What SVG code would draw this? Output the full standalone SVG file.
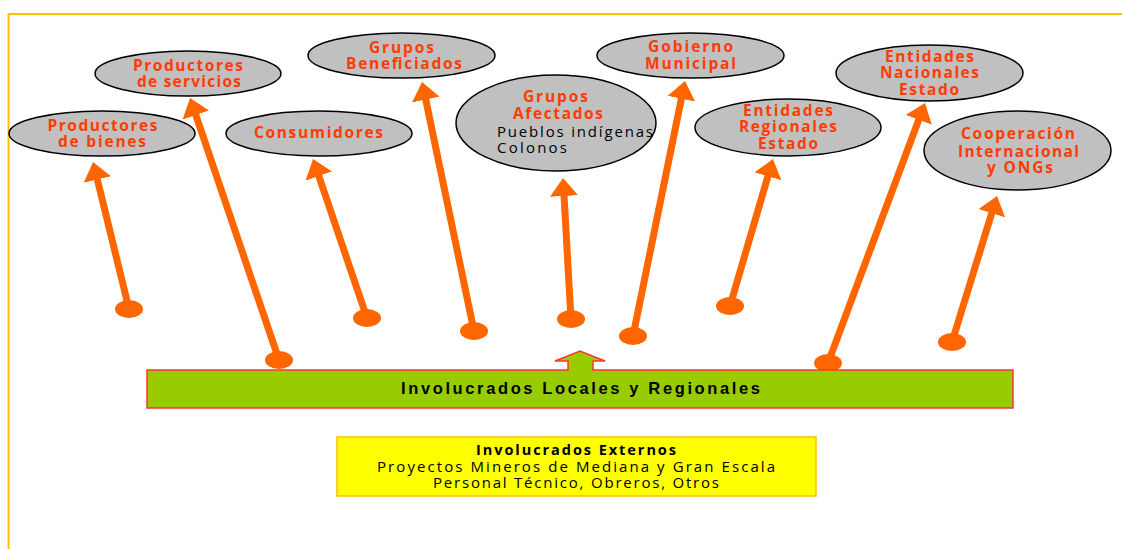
<svg xmlns="http://www.w3.org/2000/svg" width="1122" height="549" viewBox="0 0 1122 549">
<style>
.bg{fill:#FFFFFF}
.frame{stroke:#FFC000;stroke-width:2;fill:none}
.node{fill:#C0C0C0;stroke:#000000;stroke-width:1.5}
.lbl{font-family:"Open Sans","Liberation Sans",sans-serif;font-weight:bold;font-size:15.5px;fill:#FF3C00;text-anchor:middle}
.sub{font-family:"Open Sans","Liberation Sans",sans-serif;font-size:15px;fill:#000000}
.conn{stroke:#FF6600;stroke-width:7;fill:none;marker-end:url(#ah)}
.dot{fill:#FF6600}
.green{fill:#99CC00;stroke:#FF3333;stroke-width:1.5}
.gtxt{font-family:"Liberation Sans",Arial,sans-serif;font-weight:bold;font-size:16.5px;fill:#000000;text-anchor:middle}
.yellow{fill:#FFFF00;stroke:#FFC000;stroke-width:1.5}
.ytb{font-family:"Open Sans","Liberation Sans",sans-serif;font-weight:bold;font-size:14.5px;fill:#000000;text-anchor:middle}
.yt{font-family:"Open Sans","Liberation Sans",sans-serif;font-size:15px;fill:#000000;text-anchor:middle}
</style>
<defs>
<marker id="ah" markerUnits="userSpaceOnUse" markerWidth="18" markerHeight="28" refX="6" refY="14" orient="auto">
<path d="M0,0 L18,14 L0,28 z" fill="#FF6600"/>
</marker>
</defs>
<rect class="bg" x="0" y="0" width="1122" height="549"/>
<path class="frame" d="M8.5,549 L8.5,14 L1122,14"/>

<g id="connectors">
<line class="conn" x1="129" y1="309" x2="95.9" y2="173.7"/>
<line class="conn" x1="279" y1="360" x2="193.9" y2="109.4"/>
<line class="conn" x1="367" y1="318" x2="316.9" y2="170.4"/>
<line class="conn" x1="474" y1="331" x2="424.5" y2="93.7"/>
<line class="conn" x1="571" y1="319" x2="563.7" y2="190"/>
<line class="conn" x1="633" y1="336" x2="682.6" y2="92.8"/>
<line class="conn" x1="730" y1="306" x2="769.6" y2="170.5"/>
<line class="conn" x1="828" y1="363" x2="920.8" y2="114.2"/>
<line class="conn" x1="952" y1="342" x2="993.5" y2="207.5"/>
<ellipse class="dot" cx="129" cy="309" rx="14" ry="9"/>
<ellipse class="dot" cx="279" cy="360" rx="14" ry="9"/>
<ellipse class="dot" cx="367" cy="318" rx="14" ry="9"/>
<ellipse class="dot" cx="474" cy="331" rx="14" ry="9"/>
<ellipse class="dot" cx="571" cy="319" rx="14" ry="9"/>
<ellipse class="dot" cx="633" cy="336" rx="14" ry="9"/>
<ellipse class="dot" cx="730" cy="306" rx="14" ry="9"/>
<ellipse class="dot" cx="828" cy="363" rx="14" ry="9"/>
<ellipse class="dot" cx="952" cy="342" rx="14" ry="9"/>
</g>

<g id="n-bienes">
<ellipse class="node" cx="102" cy="133.5" rx="93" ry="22.5"/>
<text class="lbl" x="102.5" y="131" textLength="110" lengthAdjust="spacing">Productores</text>
<text class="lbl" x="102" y="147" textLength="88" lengthAdjust="spacing">de bienes</text>
</g>
<g id="n-servicios">
<ellipse class="node" cx="188" cy="73.5" rx="93" ry="22.5"/>
<text class="lbl" x="188" y="71" textLength="110" lengthAdjust="spacing">Productores</text>
<text class="lbl" x="189" y="87" textLength="104" lengthAdjust="spacing">de servicios</text>
</g>
<g id="n-consumidores">
<ellipse class="node" cx="319" cy="133.5" rx="93" ry="22.5"/>
<text class="lbl" x="318.5" y="138" textLength="129" lengthAdjust="spacing">Consumidores</text>
</g>
<g id="n-beneficiados">
<ellipse class="node" cx="401.5" cy="55.5" rx="93.5" ry="22.5"/>
<text class="lbl" x="401.5" y="53" textLength="65" lengthAdjust="spacing">Grupos</text>
<text class="lbl" x="404" y="69" textLength="116" lengthAdjust="spacing">Beneficiados</text>
</g>
<g id="n-afectados">
<ellipse class="node" cx="556" cy="123" rx="100" ry="48"/>
<text class="lbl" x="555.5" y="102" textLength="65" lengthAdjust="spacing">Grupos</text>
<text class="lbl" x="558" y="119" textLength="90" lengthAdjust="spacing">Afectados</text>
<text class="sub" x="497" y="137" textLength="156" lengthAdjust="spacing">Pueblos indígenas</text>
<text class="sub" x="497" y="153" textLength="70" lengthAdjust="spacing">Colonos</text>
</g>
<g id="n-municipal">
<ellipse class="node" cx="690.5" cy="55.5" rx="93.5" ry="22.5"/>
<text class="lbl" x="690.5" y="52" textLength="85" lengthAdjust="spacing">Gobierno</text>
<text class="lbl" x="690.5" y="69" textLength="91" lengthAdjust="spacing">Municipal</text>
</g>
<g id="n-regionales">
<ellipse class="node" cx="788" cy="127.5" rx="93" ry="28.5"/>
<text class="lbl" x="788" y="116" textLength="90" lengthAdjust="spacing">Entidades</text>
<text class="lbl" x="788" y="132" textLength="98" lengthAdjust="spacing">Regionales</text>
<text class="lbl" x="788" y="149" textLength="60" lengthAdjust="spacing">Estado</text>
</g>
<g id="n-nacionales">
<ellipse class="node" cx="929.5" cy="73" rx="93.5" ry="28"/>
<text class="lbl" x="929.5" y="62" textLength="89" lengthAdjust="spacing">Entidades</text>
<text class="lbl" x="929.5" y="78" textLength="99" lengthAdjust="spacing">Nacionales</text>
<text class="lbl" x="929" y="95" textLength="60" lengthAdjust="spacing">Estado</text>
</g>
<g id="n-cooperacion">
<ellipse class="node" cx="1017.5" cy="150.5" rx="93.5" ry="39.5"/>
<text class="lbl" x="1018" y="139" textLength="114" lengthAdjust="spacing">Cooperación</text>
<text class="lbl" x="1018.5" y="157" textLength="121" lengthAdjust="spacing">Internacional</text>
<text class="lbl" x="1020" y="173" textLength="66" lengthAdjust="spacing">y ONGs</text>
</g>

<g id="n-locales">
<path class="green" d="M147,370 L568,370 L568,361 L555,361 L580,351 L605,361 L593,361 L593,370 L1013,370 L1013,408 L147,408 Z"/>
<text class="gtxt" x="580.5" y="394" textLength="359" lengthAdjust="spacing">Involucrados Locales y Regionales</text>
</g>

<g id="n-externos">
<rect class="yellow" x="337" y="437" width="479" height="59"/>
<text class="ytb" x="576" y="455" textLength="200" lengthAdjust="spacing">Involucrados Externos</text>
<text class="yt" x="576" y="472" textLength="398" lengthAdjust="spacing">Proyectos Mineros de Mediana y Gran Escala</text>
<text class="yt" x="576" y="488" textLength="286" lengthAdjust="spacing">Personal Técnico, Obreros, Otros</text>
</g>
</svg>
